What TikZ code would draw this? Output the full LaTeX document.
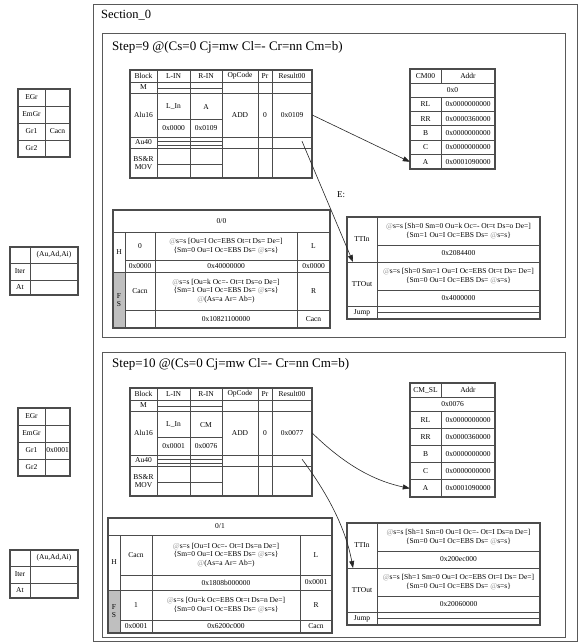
\documentclass[tikz,border=0pt]{standalone}
\usepackage{fontspec}
\setmainfont{Liberation Serif}
\usetikzlibrary{arrows.meta}
\newcommand\gat{\textcolor{black!40}{@}}

% Block / L-IN / R-IN / OpCode table: #1 prefix, #2 top, #3 left value, #4 right name, #5 right value, #6 result
\newcommand\blocktab[6]{%
 \begin{scope}[shift={(0,#2)}]
  \draw[tbl] (130,0) rectangle (312,108);
  \foreach \yy in {12,23,67,78} \draw[rule] (130,\yy) -- (312,\yy);
  \foreach \xx in {157,190,222,258,272} \draw[rule] (\xx,0) -- (\xx,108);
  \foreach \yy in {18,49,71,75,94} \draw[thin rule] (157,\yy) -- (222,\yy);
  \node[cellt] (#1blk) at (143.5,6) {Block};
  \node[cellt] (#1lh) at (173.5,6) {L-IN};
  \node[cellt] (#1rh) at (206,6) {R-IN};
  \node[cellt] (#1oh) at (240,6) {OpCode};
  \node[cellt] (#1ph) at (265,6) {Pr};
  \node[cellt] (#1resh) at (292,6) {Result00};
  \node[cellt] (#1m) at (143.5,17.5) {M};
  \node[cellt] (#1alu) at (143.5,45) {Alu16};
  \node[cellt] (#1ln) at (173.5,37) {L\_In};
  \node[cellt] (#1lv) at (173.5,58) {#3};
  \node[cellt] (#1rn) at (206,37) {#4};
  \node[cellt] (#1rv) at (206,58) {#5};
  \node[cellt] (#1op) at (240,45) {ADD};
  \node[cellt] (#1pr) at (265,45) {0};
  \node[cellt,minimum width=40pt,minimum height=44pt] (#1res) at (292,45) {#6};
  \node[cellt] (#1au) at (143.5,72.5) {Au40};
  \node[cellt] (#1bs) at (143.5,93) {BS\&R\\MOV};
 \end{scope}}

% register table: #1 prefix, #2 top, #3 title, #4 address, #5 row height
\newcommand\cmtab[5]{%
 \begin{scope}[shift={(0,#2)}]
  \pgfmathsetmacro\rh{#5}
  \draw[tbl] (410,0) rectangle (495,28+5*\rh);
  \draw[rule] (410,14) -- (495,14);
  \draw[rule] (410,28) -- (495,28);
  \foreach \k in {1,...,4} \draw[rule] (410,28+\k*\rh) -- (495,28+\k*\rh);
  \draw[rule] (441,0) -- (441,14);
  \draw[rule] (441,28) -- (441,28+5*\rh);
  \node[cellt] (#1t) at (425.5,7) {#3};
  \node[cellt] (#1addr) at (468,7) {Addr};
  \node[cellt] (#1a0) at (452.5,21) {#4};
  \foreach \nm/\val [count=\k] in {RL/0x0000000000,RR/0x0000360000,B/0x0000000000,C/0x0000000000}
   {\node[cellt] (#1n\k) at (425.5,28+\k*\rh-0.5*\rh) {\nm};
    \node[cellt] (#1v\k) at (468,28+\k*\rh-0.5*\rh) {\val};}
  \node[cellt,minimum width=31pt] (#1A) at (425.5,28+4.5*\rh) {A};
  \node[cellt] (#1vA) at (468,28+4.5*\rh) {0x0001090000};
 \end{scope}}

% transfer table: #1 prefix, #2 top, #3 in text, #4 in value, #5 out text, #6 out value
\newcommand\tttab[6]{%
 \begin{scope}[shift={(0,#2)}]
  \draw[tbl] (347,0) rectangle (540,102);
  \draw[rule] (347,45) -- (540,45);
  \draw[rule] (347,89) -- (540,89);
  \draw[rule] (377,28) -- (540,28);
  \draw[rule] (377,73) -- (540,73);
  \draw[thin rule] (377,95) -- (540,95);
  \draw[rule] (377,0) -- (377,102);
  \node[cellt] (#1in) at (362,22.5) {TTIn};
  \node[cellt] (#1it) at (458.5,14) {#3};
  \node[cellt] (#1iv) at (458.5,36.5) {#4};
  \node[cellt] (#1out) at (362,67) {TTOut};
  \node[cellt] (#1ot) at (458.5,59) {#5};
  \node[cellt] (#1ov) at (458.5,81) {#6};
  \node[cellt] (#1j) at (362,95.5) {Jump};
  \coordinate (#1split) at (353,45);
 \end{scope}}

% group table at the left margin: #1 prefix, #2 top, #3 Gr1 value
\newcommand\grtab[3]{%
 \begin{scope}[shift={(0,#2)}]
  \draw[tbl] (18,0) rectangle (70,68);
  \foreach \yy in {17,34,51} \draw[rule] (18,\yy) -- (70,\yy);
  \draw[rule] (45,0) -- (45,68);
  \node[sidet] (#1e) at (31.5,8.5) {EGr};
  \node[sidet] (#1em) at (31.5,25.5) {EmGr};
  \node[sidet] (#1g1) at (31.5,42.5) {Gr1};
  \node[sidet] (#1g1v) at (57.5,42.5) {#3};
  \node[sidet] (#1g2) at (31.5,59.5) {Gr2};
 \end{scope}}

% iteration table at the left margin: #1 prefix, #2 top
\newcommand\ittab[2]{%
 \begin{scope}[shift={(0,#2)}]
  \draw[tbl] (10,0) rectangle (78,48);
  \draw[rule] (10,16) -- (78,16);
  \draw[rule] (10,33) -- (78,33);
  \draw[rule] (30,0) -- (30,48);
  \node[sidet] (#1h) at (54,8) {(Au,Ad,Ai)};
  \node[sidet] (#1it) at (20,24.5) {Iter};
  \node[sidet] (#1at) at (20,40.5) {At};
 \end{scope}}

\begin{document}
\begin{tikzpicture}[x=1pt,y=-1pt,
  box/.style={draw=black!65,line width=1pt},
  tbl/.style={draw=black!70,line width=1.2pt},
  rule/.style={draw=black!70,line width=0.7pt},
  thin rule/.style={draw=black!70,line width=0.45pt},
  cellt/.style={font=\fontsize{7.5}{8.5}\selectfont,inner sep=0pt,align=center},
  sidet/.style={font=\fontsize{7.5}{8.5}\selectfont,inner sep=0pt,align=center},
  title/.style={font=\fontsize{12.5}{14}\selectfont,anchor=west,inner sep=0pt},
  link/.style={draw=black!85,line width=0.6pt,-{Triangle[length=7pt,width=5pt]}},
]
\useasboundingbox[fill=white] (0,0) rectangle (579,643);

% section frame and step frames
\draw[box] (93,4) rectangle (577,641);
\node[title] (sec) at (101,15) {Section\_0};
\draw[box] (102,33) rectangle (565,337);
\node[title,font=\fontsize{13}{15}\selectfont] (s9) at (112,47) {Step=9 @(Cs=0 Cj=mw Cl=- Cr=nn Cm=b)};
\draw[box] (102,352) rectangle (565,637);
\node[title,font=\fontsize{13}{15}\selectfont] (s10) at (112,364) {Step=10 @(Cs=0 Cj=mw Cl=- Cr=nn Cm=b)};

% ---------- step 9 ----------
\blocktab{b9}{70}{0x0000}{A}{0x0109}{0x0109}
\cmtab{c9}{69}{CM00}{0x0}{14.4}
\tttab{t9}{217}
 {\gat s=s [Sh=0 Sm=0 Ou=k Oc=- Ot=t Ds=o De=]\\\{Sm=1 Ou=I Oc=EBS Ds= \gat s=s\}}{0x2084400}
 {\gat s=s [Sh=0 Sm=1 Ou=I Oc=EBS Ot=t Ds= De=]\\\{Sm=0 Ou=I Oc=EBS Ds= \gat s=s\}}{0x4000000}

\fill[black!25] (113,272) rectangle (125,328);
\draw[tbl] (113,210) rectangle (330,328);
\draw[rule] (113,232) -- (330,232);
\draw[rule] (113,272) -- (330,272);
\draw[rule] (125,260) -- (330,260);
\draw[rule] (125,310) -- (330,310);
\foreach \xx in {125,155,297} \draw[rule] (\xx,232) -- (\xx,328);
\node[cellt] (z0t) at (221.5,221) {0/0};
\node[cellt] (z0H) at (119,252) {H};
\node[cellt] (z0F) at (119,300) {F\\S};
\node[cellt] (z0a) at (140,246) {0};
\node[cellt] (z0b) at (226,246) {\gat s=s [Ou=I Oc=EBS Ot=t Ds= De=]\\\{Sm=0 Ou=I Oc=EBS Ds= \gat s=s\}};
\node[cellt] (z0c) at (313.5,246) {L};
\node[cellt] (z0d) at (140,266) {0x0000};
\node[cellt] (z0e) at (226,266) {0x40000000};
\node[cellt] (z0f) at (313.5,266) {0x0000};
\node[cellt] (z0g) at (140,291) {Cacn};
\node[cellt] (z0h) at (226,291) {\gat s=s [Ou=k Oc=- Ot=t Ds=o De=]\\\{Sm=1 Ou=I Oc=EBS Ds= \gat s=s\}\\\gat(As=a Ar= Ab=)};
\node[cellt] (z0i) at (313.5,291) {R};
\node[cellt] (z0j) at (226,319) {0x10821100000};
\node[cellt] (z0k) at (313.5,319) {Cacn};

\grtab{g9}{89}{Cacn}
\ittab{i9}{247}

\draw[link] (b9res.east) -- (c9A.west);
\draw[link] ([xshift=10pt,yshift=-4pt]b9res.south) -- (t9split);
\node[cellt,font=\fontsize{9}{10}\selectfont] (e9) at (341,195) {E:};

% ---------- step 10 ----------
\blocktab{b10}{388}{0x0001}{CM}{0x0076}{0x0077}
\cmtab{c10}{383}{CM\_SL}{0x0076}{17.2}
\tttab{t10}{523}
 {\gat s=s [Sh=1 Sm=0 Ou=I Oc=- Ot=I Ds=n De=]\\\{Sm=0 Ou=I Oc=EBS Ds= \gat s=s\}}{0x200ec000}
 {\gat s=s [Sh=1 Sm=0 Ou=I Oc=EBS Ot=I Ds= De=]\\\{Sm=0 Ou=I Oc=EBS Ds= \gat s=s\}}{0x20060000}

\fill[black!25] (108,590) rectangle (120,633);
\draw[tbl] (108,518) rectangle (332,633);
\draw[rule] (108,535) -- (332,535);
\draw[rule] (108,590) -- (332,590);
\draw[rule] (120,575) -- (332,575);
\draw[rule] (120,620) -- (332,620);
\foreach \xx in {120,152,300} \draw[rule] (\xx,535) -- (\xx,633);
\node[cellt] (z1t) at (220,526.5) {0/1};
\node[cellt] (z1H) at (114,562) {H};
\node[cellt] (z1F) at (114,611) {F\\S};
\node[cellt] (z1a) at (136,555) {Cacn};
\node[cellt] (z1b) at (226,555) {\gat s=s [Ou=I Oc=- Ot=I Ds=n De=]\\\{Sm=0 Ou=I Oc=EBS Ds= \gat s=s\}\\\gat(As=a Ar= Ab=)};
\node[cellt] (z1c) at (316,555) {L};
\node[cellt] (z1e) at (226,582.5) {0x1808b000000};
\node[cellt] (z1f) at (316,582.5) {0x0001};
\node[cellt] (z1g) at (136,605) {1};
\node[cellt] (z1h) at (226,605) {\gat s=s [Ou=k Oc=EBS Ot=t Ds=n De=]\\\{Sm=0 Ou=I Oc=EBS Ds= \gat s=s\}};
\node[cellt] (z1i) at (316,605) {R};
\node[cellt] (z1j) at (136,626.5) {0x0001};
\node[cellt] (z1k) at (226,626.5) {0x6200c000};
\node[cellt] (z1l) at (316,626.5) {Cacn};

\grtab{g10}{408}{0x0001}
\ittab{i10}{550}

\draw[link] (b10res.east) .. controls (350,470) and (380,482) .. (c10A.west);
\draw[link] ([xshift=10pt,yshift=-4pt]b10res.south) .. controls (325,490) and (345,525) .. (t10split);
\end{tikzpicture}
\end{document}
